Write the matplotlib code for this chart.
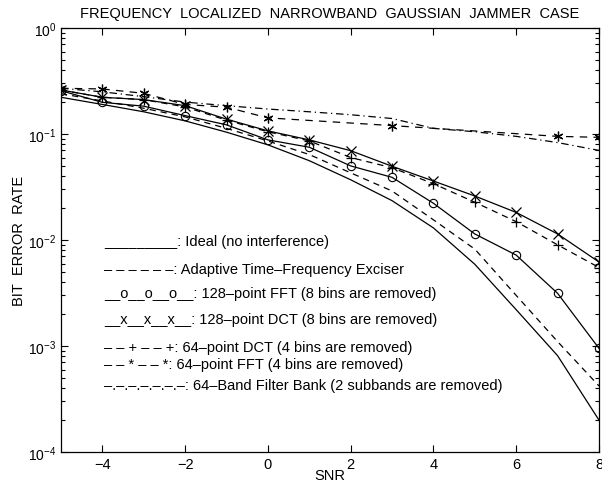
import numpy as np
import matplotlib
matplotlib.use("Agg")
import matplotlib.pyplot as plt

plt.rcParams['font.family'] = ['Liberation Sans', 'DejaVu Sans']
plt.rcParams['mathtext.fontset'] = 'custom'
plt.rcParams['mathtext.rm'] = 'Liberation Sans'

# SNR grid and BER curves
snr = [-5, -4, -3, -2, -1, 0, 1, 2, 3, 4, 5, 6, 7, 8]
ideal = [0.222, 0.19, 0.162, 0.133, 0.104, 0.079, 0.056, 0.037, 0.0235, 0.013,
         0.0059, 0.0022, 0.00081, 0.0002]
adaptive = [0.24, 0.205, 0.175, 0.145, 0.113, 0.086, 0.064, 0.043, 0.029, 0.0155,
            0.0082, 0.003, 0.0011, 0.00042]
fft128 = [0.256, 0.199, 0.183, 0.149, 0.122, 0.088, 0.075, 0.050, 0.039, 0.0222,
          0.0114, 0.0072, 0.00314, 0.00095]
dct128 = [0.26, 0.222, 0.211, 0.185, 0.138, 0.107, 0.088, 0.0696, 0.0496, 0.036,
          0.026, 0.0182, 0.0114, 0.0062]
dct64 = [0.26, 0.222, 0.211, 0.18, 0.135, 0.105, 0.086, 0.060, 0.048, 0.034,
         0.0227, 0.0149, 0.009, 0.0055]
snr_fft64 = [-5, -4, -3, -2, -1, 0, 3, 7, 8]
fft64 = [0.27, 0.266, 0.242, 0.19, 0.179, 0.142, 0.12, 0.095, 0.093]
fbank = [0.27, 0.25, 0.225, 0.2, 0.185, 0.172, 0.162, 0.152, 0.14, 0.113,
         0.105, 0.095, 0.083, 0.07]

legend_lines = [
    "_________: Ideal (no interference)",
    "\u2013 \u2013 \u2013 \u2013 \u2013 \u2013: Adaptive Time\u2013Frequency Exciser",
    "__o__o__o__: 128\u2013point FFT (8 bins are removed)",
    "__x__x__x__: 128\u2013point DCT (8 bins are removed)",
    "\u2013 \u2013 + \u2013 \u2013 +: 64\u2013point DCT (4 bins are removed)",
    "\u2013 \u2013 * \u2013 \u2013 *: 64\u2013point FFT (4 bins are removed)",
    "\u2013.\u2013.\u2013.\u2013.\u2013.\u2013.\u2013: 64\u2013Band Filter Bank (2 subbands are removed)",
]
legend_y = [0.498, 0.432, 0.375, 0.314, 0.248, 0.208, 0.158]

fig = plt.figure(figsize=(6.02, 4.89), dpi=100)
ax = fig.add_axes([0.1013, 0.0736, 0.8937, 0.8671])

lw = 0.9
ax.semilogy(snr, ideal, 'k-', lw=lw)
ax.semilogy(snr, adaptive, 'k--', lw=lw, dashes=(5, 4))
ax.semilogy(snr, fft128, 'k-', lw=lw, marker='o', mfc='none', ms=6, mew=0.8)
ax.semilogy(snr, dct128, 'k-', lw=lw, marker='x', ms=7, mew=0.9)
ax.semilogy(snr, dct64, 'k--', lw=lw, dashes=(5, 4), marker='+', ms=7, mew=0.9)
ax.semilogy(snr_fft64, fft64, 'k--', lw=lw, dashes=(6, 5), marker=(6, 2, 0),
            ms=7, mew=0.9)
ax.semilogy(snr, fbank, 'k-.', lw=lw, dashes=(6, 3, 1, 3))

for txt, yy in zip(legend_lines, legend_y):
    ax.text(0.08, yy, txt, transform=ax.transAxes, fontsize=10.5,
            va='center', ha='left')

ax.set_xlim(-5, 8)
ax.set_ylim(1e-4, 1)
ax.set_xticks([-4, -2, 0, 2, 4, 6, 8])
ax.set_yticks([1e-4, 1e-3, 1e-2, 1e-1, 1])
ax.tick_params(which='both', direction='in', top=True, right=True,
               labelsize=10.5, width=0.8)
ax.tick_params(axis='y', labelsize=10)
ax.tick_params(which='major', length=5)
ax.tick_params(which='minor', length=3)
for s in ax.spines.values():
    s.set_linewidth(0.9)

ax.set_title("FREQUENCY  LOCALIZED  NARROWBAND  GAUSSIAN  JAMMER  CASE",
             fontsize=10.5, pad=8)
ax.set_xlabel("SNR", fontsize=10.5, labelpad=-2)
ax.set_ylabel("BIT  ERROR  RATE", fontsize=10.5, labelpad=1)

fig.savefig("out.png", dpi=100)
